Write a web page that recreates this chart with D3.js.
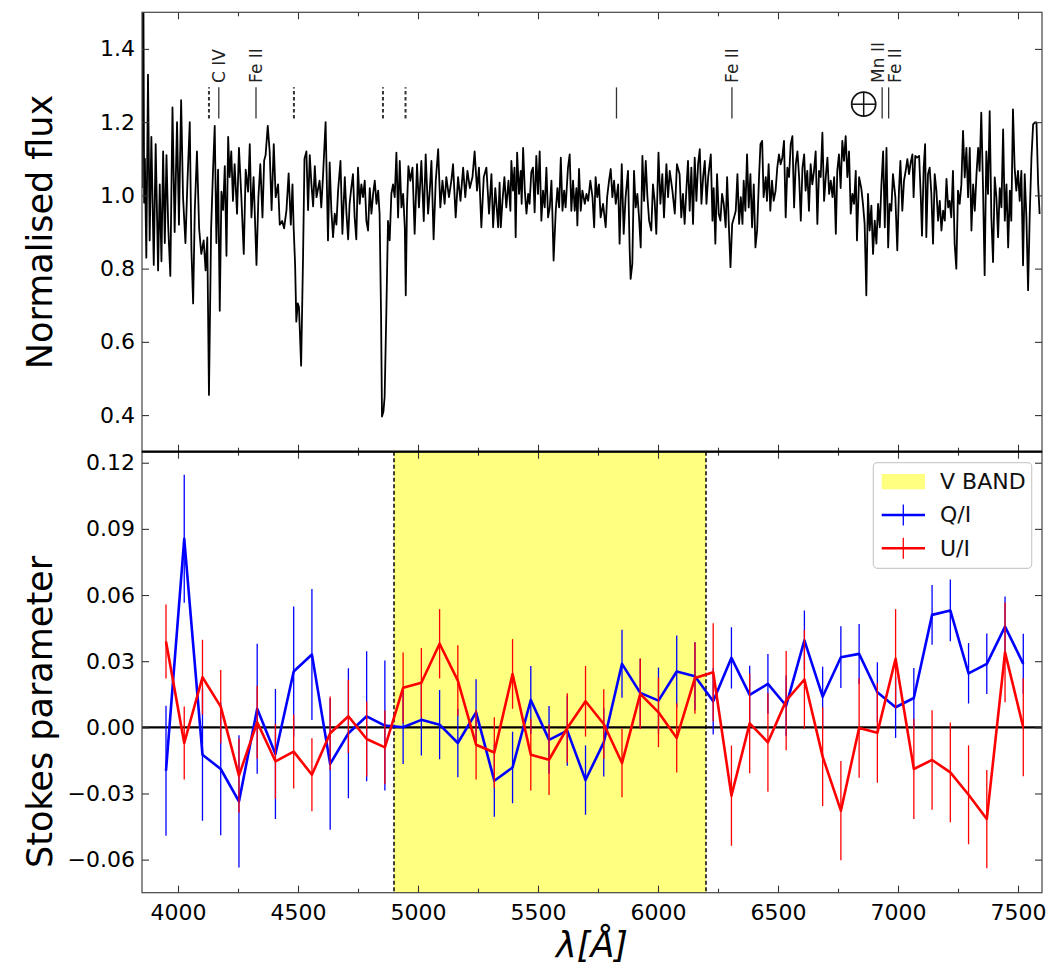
<!DOCTYPE html>
<html><head><meta charset="utf-8">
<script src="https://cdn.jsdelivr.net/npm/d3@7"></script>
<style>body{margin:0;background:#fff;} text{font-family:"DejaVu Sans",sans-serif;}</style>
</head><body><svg id="chart" width="1059" height="971"></svg>
<script>
// ---------------- DATA ----------------
const specWave = [3850,3853,3856,3859,3862,3868,3875,3882,3889,3899,3907,3917,3924,3931,3938,3945,3952,3959,3968,3977,3986,3996,4004,4013,4021,4031,4039,4049,4056,4063,4070,4079,4088,4097,4107,4115,4122,4129,4138,4146,4153,4160,4167,4174,4181,4188,4195,4202,4209,4215,4222,4229,4236,4246,4254,4264,4274,4282,4292,4299,4306,4315,4327,4335,4343,4352,4359,4365,4374,4382,4390,4399,4407,4417,4424,4434,4442,4452,4461,4470,4477,4482,4488,4493,4499,4504,4513,4521,4527,4535,4542,4549,4556,4563,4570,4577,
4590,4597,4604,4615,4625,4632,4639,4646,4653,4660,4667,4677,4685,4695,4702,4709,4715,4722,4729,4736,4743,4750,4757,4764,4771,4778,4785,4792,4799,4806,4813,4820,4827,4834,4840,4846,4850,4856,4861,4868,4875,4882,4889,4896,4903,4910,4917,4924,4931,4938,4945,4949,4954,4960,4968,4977,4986,4996,5004,5014,5024,5032,5042,5049,5056,5065,5074,5084,5093,5102,5111,5118,5129,5139,5146,5157,5167,5177,5188,5197,5206,5216,5227,5236,5246,5254,5264,5274,5285,5296,5306,5313,5322,5334,
5340,5345,5352,5360,5368,5377,5385,5389,5396,5402,5407,5413,5421,5428,5432,5438,5445,5452,5459,5465,5472,5479,5486,5493,5500,5507,5514,5521,5528,5535,5542,5549,5556,5560,5565,5574,5581,5588,5595,5602,5609,5615,5625,5632,5639,5646,5653,5660,5664,5671,5678,5685,5695,5702,5709,5718,5727,5734,5740,5747,5754,5761,5771,5782,5788,5796,5803,5810,5817,5824,5834,5840,5849,5857,5865,5875,5882,5886,5893,5900,5907,5914,5921,5928,5935,5942,5949,5956,5963,5972,5979,5986,5993,6002,6010,6018,6025,6035,6042,6049,6060,6070,6079,
6090,6097,6104,6111,6118,6125,6132,6139,6146,6153,6160,6167,6174,6181,6188,6195,6202,6209,6220,6227,6232,6239,6246,6253,6260,6267,6274,6282,6288,6295,6302,6309,6317,6324,6331,6338,6345,6352,6357,6364,6371,6378,6385,6392,6399,6406,6413,6421,6427,6434,6440,6449,6454,6461,6468,6475,6482,6490,6497,6504,6511,6518,6525,6532,6539,6546,6553,6560,6567,6574,6581,6588,6595,6602,6609,6615,6622,6629,6636,6643,6650,6657,6664,6671,6678,6685,6692,6699,6706,6713,6720,6727,6734,6741,6747,6754,6761,6768,6775,6782,6789,6796,6803,6810,6817,6824,6829,6838,
6847,6854,6861,6868,6875,6882,6889,6896,6903,6910,6917,6924,6931,6938,6945,6952,6959,6965,6972,6979,6989,6997,7004,7010,7018,7025,7032,7039,7046,7053,7060,7065,7072,7079,7088,7095,7100,7107,7113,7118,7125,7132,7139,7146,7153,7160,7167,7174,7181,7188,7195,7202,7209,7215,7222,7229,7236,7243,7250,7257,7264,7271,7278,7285,7292,7299,7306,7313,7320,7327,7334,7340,7347,7354,7361,7368,7375,7382,7389,7396,7403,7410,7417,7424,7431,7438,7445,7452,7459,7466,7472,7479,7486,7493,7500,7507,7514,7521,7528,7535,7542,7549,7556,7563,7570,7577,7584,7590];
const specFlux = [1.02,1.60,1.52,0.98,1.10,0.83,1.33,0.877,1.16,0.81,1.14,0.795,1.03,0.82,1.12,0.87,1.11,0.92,0.78,1.24,0.90,1.20,0.92,1.26,0.995,0.87,1.03,1.20,0.85,0.705,0.96,1.12,0.91,0.84,0.877,0.795,0.885,0.455,0.91,1.07,1.19,0.87,1.07,0.685,1.01,0.96,1.08,0.835,1.16,1.05,1.12,0.985,1.085,0.95,1.13,0.995,0.84,1.07,1.01,1.14,0.94,1.05,0.81,0.995,1.085,0.94,1.095,1.11,1.19,1.12,0.96,1.14,0.995,1.03,0.92,0.93,0.91,0.96,1.06,0.92,1.03,0.91,0.81,0.655,0.705,0.695,0.535,0.83,1.10,1.12,0.96,1.11,1.03,0.97,1.08,0.995,
1.04,0.967,1.05,1.20,0.877,1.09,0.958,0.886,0.95,0.92,1.013,1.094,0.895,1.05,0.95,0.88,0.977,1.02,1.058,0.94,0.88,1.076,0.977,1.03,0.995,1.04,0.93,0.904,1.02,0.95,1.004,1.04,0.977,1.013,0.95,0.678,0.396,0.41,0.45,0.678,0.93,0.877,1.004,1.03,0.995,1.117,0.94,1.094,0.967,1.004,0.913,0.727,0.967,1.08,1.04,1.076,0.895,1.085,0.967,1.094,0.93,1.112,0.95,1.013,1.094,0.88,1.04,1.126,0.967,1.04,0.977,1.05,0.995,1.04,1.085,0.94,1.05,0.985,1.076,0.995,1.067,1.02,1.05,1.12,1.013,1.076,0.913,1.05,1.076,0.95,1.058,0.913,1.02,0.913,
1.035,0.913,0.985,1.05,0.967,1.04,0.958,1.094,1.013,1.076,0.886,1.117,1.004,1.067,0.977,1.13,1.013,0.95,1.004,0.977,1.063,1.076,0.954,1.108,1.004,1.12,0.931,1.013,0.967,1.076,0.94,0.967,1.04,0.95,0.822,0.958,1.02,0.967,1.103,0.958,1.013,0.967,1.076,1.112,0.958,1.04,0.958,1.02,0.918,1.072,0.958,1.013,0.977,1.004,0.985,1.04,0.995,0.913,1.05,0.995,1.03,0.94,0.977,0.913,0.995,1.04,1.072,0.995,1.04,0.977,1.03,0.868,1.085,0.895,0.995,1.067,0.85,0.772,0.813,1.067,0.967,1.004,0.94,0.858,1.108,0.985,1.094,0.995,0.931,0.904,1.03,0.985,0.895,1.117,0.977,1.058,0.94,1.085,0.995,1.067,1.013,0.95,1.085,
1.058,0.94,1.004,0.922,1.013,1.094,0.958,1.076,0.922,1.103,0.985,1.085,1.126,0.977,1.05,1.094,0.977,1.05,1.112,0.931,1.02,0.868,1.058,0.95,0.931,1.004,0.977,0.913,1.05,0.922,0.804,0.922,0.94,0.958,1.058,0.922,0.995,0.922,1.04,0.958,1.112,0.967,1.058,0.913,1.03,0.858,0.904,1.05,1.14,1.149,0.995,1.05,0.985,1.085,0.958,1.04,0.985,1.013,1.076,1.112,1.085,1.103,1.149,0.94,1.076,1.05,1.14,1.162,0.967,1.085,1.12,1.05,0.931,1.076,1.112,1.013,1.067,0.958,1.085,1.03,1.067,1.12,0.922,1.067,1.05,1.171,0.985,1.05,1.103,1.004,1.04,0.995,1.05,0.895,1.067,1.112,1.02,1.149,1.094,1.162,1.05,1.12,0.95,1.004,0.977,1.067,0.877,1.05,
1.02,0.977,0.922,0.727,1.004,0.904,0.972,0.84,0.931,0.868,0.977,0.913,1.03,1.12,0.913,1.13,0.858,0.977,0.958,1.058,0.995,0.85,1.013,1.094,0.958,1.04,1.067,1.099,1.058,1.09,1.112,0.995,1.108,1.103,1.108,0.995,0.89,1.076,1.14,0.886,1.058,1.076,1.004,0.868,1.058,1.013,0.931,0.985,0.904,0.958,0.931,1.045,0.967,0.985,0.94,1.067,0.868,0.80,1.013,0.977,1.03,1.176,1.049,1.13,0.995,1.13,0.904,1.03,0.958,1.058,1.13,1.067,1.226,1.03,0.782,1.12,1.004,1.23,0.94,0.818,1.049,0.995,0.886,1.02,0.967,1.18,0.931,1.03,0.858,1.013,0.931,1.235,1.076,1.013,1.067,0.985,1.067,0.809,1.058,0.94,0.741,0.949,1.103,1.194,1.199,1.199,1.03,0.949];

const dashedLines = [4129, 4483, 4854, 4948];
const solidLines = [4170, 4325, 5827, 6308, 6934, 6961];
const labelText = ["C IV", "Fe II", "Fe II", "Mn II", "Fe II"];
const labelWave = [4170, 4325, 6308, 6917, 6986];
const telluricWave = [6857];

const binWave = [3950,4026,4102,4178,4254,4330,4406,4482,4558,4634,4710,4786,4862,4938,5014,5090,5166,5242,5318,5394,5470,5546,5622,5698,5774,5850,5926,6002,6078,6154,6230,6306,6382,6458,6534,6610,6686,6762,6838,6914,6990,7066,7142,7218,7294,7370,7446,7522];
const qValues = [-0.0197,0.0855,-0.0124,-0.0189,-0.0336,0.0084,-0.0121,0.0253,0.0330,-0.0166,-0.0027,0.0050,0.0008,0.0000,0.0034,0.0012,-0.0071,0.0068,-0.0242,-0.0182,0.0124,-0.0057,-0.0015,-0.0239,-0.0068,0.0288,0.0156,0.0121,0.0253,0.0232,0.0118,0.0315,0.0147,0.0197,0.0098,0.0394,0.0139,0.0318,0.0333,0.0159,0.0091,0.0133,0.0510,0.0530,0.0245,0.0288,0.0457,0.0288];
const qErrors = [0.0295,0.029,0.030,0.030,0.030,0.0295,0.0295,0.0295,0.0297,0.0298,0.0295,0.0295,0.0295,0.0166,0.0162,0.0157,0.0155,0.0150,0.0164,0.0162,0.0154,0.0154,0.0159,0.0157,0.0155,0.0154,0.0155,0.0150,0.0163,0.0154,0.0150,0.0139,0.0132,0.0135,0.0137,0.0136,0.0136,0.0140,0.0136,0.0136,0.0139,0.0136,0.0136,0.0140,0.0137,0.0137,0.0136,0.0136];
const uValues = [0.0389,-0.0071,0.0227,0.0094,-0.0219,0.0023,-0.0154,-0.0110,-0.0215,-0.0027,0.0050,-0.0053,-0.0091,0.0179,0.0202,0.0379,0.0212,-0.0079,-0.0114,0.0242,-0.0124,-0.0147,-0.0003,0.0118,0.0015,-0.0162,0.0152,0.0068,-0.0048,0.0224,0.0250,-0.0310,0.0018,-0.0068,0.0121,0.0217,-0.0133,-0.0378,-0.0003,-0.0025,0.0311,-0.0189,-0.0148,-0.0204,-0.0306,-0.0416,0.0340,0.0000];
const uErrors = [0.0168,0.0166,0.0170,0.0166,0.0168,0.0166,0.0170,0.0168,0.0166,0.0167,0.0166,0.0170,0.0167,0.0160,0.0158,0.0157,0.0160,0.0158,0.0160,0.0158,0.0163,0.0160,0.0157,0.0160,0.0158,0.0155,0.0160,0.0158,0.0157,0.0162,0.0222,0.0227,0.0226,0.0224,0.0225,0.0225,0.0224,0.0225,0.0226,0.0226,0.0225,0.0227,0.0226,0.0226,0.0224,0.0223,0.0226,0.0222];
const vBand = [4900, 6200];

const xMajorTicks = [4000,4500,5000,5500,6000,6500,7000,7500];
const xMinorTicks = [4250,4750,5250,5750,6250,6750,7250];
const fluxTicks = [0.4,0.6,0.8,1.0,1.2,1.4];
const stokesTicks = [-0.06,-0.03,0.00,0.03,0.06,0.09,0.12];
const legendLabels = ["V BAND","Q/I","U/I"];

// ---------------- CHART ----------------
const svg = d3.select("#chart");
svg.append("rect").attr("width",1059).attr("height",971).attr("fill","#fff");
const L=142, R=1042, T1=12.3, MID=451.7, B2=892.7;
const x = d3.scaleLinear().domain([3850,7600]).range([L,R]);
const yTop = d3.scaleLinear().domain([0.3,1.5]).range([MID,T1]);
const yBot = d3.scaleLinear().domain([-0.075,0.125]).range([B2,MID]);

const defs = svg.append("defs");
defs.append("clipPath").attr("id","clipTop").append("rect").attr("x",L).attr("y",T1).attr("width",R-L).attr("height",MID-T1);
defs.append("clipPath").attr("id","clipBot").append("rect").attr("x",L).attr("y",MID).attr("width",R-L).attr("height",B2-MID);

// ---- top panel ----
const gTop = svg.append("g");
const spec = d3.zip(specWave, specFlux);
gTop.append("path").datum(spec).attr("clip-path","url(#clipTop)")
  .attr("d", d3.line().x(d=>x(d[0])).y(d=>yTop(d[1])))
  .attr("fill","none").attr("stroke","#000").attr("stroke-width",1.8).attr("stroke-linejoin","round");

const mkLo = 1.21, mkHi = 1.295, lblBase = 1.307;
gTop.selectAll("line.dash").data(dashedLines).join("line")
  .attr("x1",d=>x(d)).attr("x2",d=>x(d)).attr("y1",yTop(mkLo)).attr("y2",yTop(mkHi))
  .attr("stroke","#333").attr("stroke-width",2).attr("stroke-dasharray","3.5,2.5");
gTop.selectAll("line.solid").data(solidLines).join("line")
  .attr("x1",d=>x(d)).attr("x2",d=>x(d)).attr("y1",yTop(mkLo)).attr("y2",yTop(mkHi))
  .attr("stroke","#333").attr("stroke-width",1.3);
gTop.selectAll("text.lbl").data(d3.zip(labelText,labelWave)).join("text")
  .attr("transform",d=>`translate(${x(d[1])},${yTop(lblBase)}) rotate(-90)`)
  .attr("dy","0.36em").attr("text-anchor","start").attr("font-size",17).attr("fill","#222")
  .text(d=>d[0]);
telluricWave.forEach(w=>{
  const cx = x(w), cy = yTop(1.249), r = 12;
  gTop.append("circle").attr("cx",cx).attr("cy",cy).attr("r",r).attr("fill","none").attr("stroke","#111").attr("stroke-width",1.7);
  gTop.append("line").attr("x1",cx-r).attr("x2",cx+r).attr("y1",cy).attr("y2",cy).attr("stroke","#111").attr("stroke-width",1.5);
  gTop.append("line").attr("x1",cx).attr("x2",cx).attr("y1",cy-r).attr("y2",cy+r).attr("stroke","#111").attr("stroke-width",1.5);
});

// ---- bottom panel ----
const gBot = svg.append("g");
gBot.append("rect").attr("x",x(vBand[0])).attr("y",MID).attr("width",x(vBand[1])-x(vBand[0])).attr("height",B2-MID).attr("fill","#ffff80");
vBand.forEach(v=>{
  gBot.append("line").attr("x1",x(v)).attr("x2",x(v)).attr("y1",MID).attr("y2",B2)
    .attr("stroke","#111").attr("stroke-width",1.6).attr("stroke-dasharray","4,2.5");
});
gBot.append("line").attr("x1",L).attr("x2",R).attr("y1",yBot(0)).attr("y2",yBot(0)).attr("stroke","#000").attr("stroke-width",2.2);

function series(vals, errs, color){
  const g = gBot.append("g").attr("clip-path","url(#clipBot)");
  const pts = d3.zip(binWave, vals, errs);
  g.append("path").datum(pts).attr("d", d3.line().x(d=>x(d[0])).y(d=>yBot(d[1])))
    .attr("fill","none").attr("stroke",color).attr("stroke-width",2.6).attr("stroke-linejoin","round");
  g.selectAll("line").data(pts).join("line")
    .attr("x1",d=>x(d[0])).attr("x2",d=>x(d[0]))
    .attr("y1",d=>yBot(d[1]-d[2])).attr("y2",d=>yBot(d[1]+d[2]))
    .attr("stroke",color).attr("stroke-width",1.3);
}
series(qValues, qErrors, "#0000ff");
series(uValues, uErrors, "#ff0000");

// ---- axes ----
function styleAxis(g){ g.select(".domain").remove(); g.selectAll(".tick line").attr("stroke","#333").attr("stroke-width",1.1);
  g.selectAll("text").attr("font-family","DejaVu Sans, sans-serif").attr("font-size",22).attr("fill","#000"); }
const noLbl = ()=>"";
svg.append("g").attr("transform",`translate(${L},0)`).call(d3.axisLeft(yTop).tickValues(fluxTicks).tickSize(-7).tickPadding(7).tickFormat(d3.format(".1f"))).call(styleAxis);
svg.append("g").attr("transform",`translate(${R},0)`).call(d3.axisRight(yTop).tickValues(fluxTicks).tickSize(-7).tickFormat(noLbl)).call(styleAxis);
[[d3.axisTop,T1],[d3.axisBottom,MID]].forEach(([ax,yy])=>{
  svg.append("g").attr("transform",`translate(0,${yy})`).call(ax(x).tickValues(xMajorTicks).tickSize(-7).tickFormat(noLbl)).call(styleAxis);
  svg.append("g").attr("transform",`translate(0,${yy})`).call(ax(x).tickValues(xMinorTicks).tickSize(-4).tickFormat(noLbl)).call(styleAxis);
});
const stokesFmt = d=> (d<0?"\u2212":"") + d3.format(".2f")(Math.abs(d));
svg.append("g").attr("transform",`translate(${L},0)`).call(d3.axisLeft(yBot).tickValues(stokesTicks).tickSize(-7).tickPadding(7).tickFormat(stokesFmt)).call(styleAxis);
svg.append("g").attr("transform",`translate(${R},0)`).call(d3.axisRight(yBot).tickValues(stokesTicks).tickSize(-7).tickFormat(noLbl)).call(styleAxis);
svg.append("g").attr("transform",`translate(0,${MID})`).call(d3.axisTop(x).tickValues(xMajorTicks).tickSize(-7).tickFormat(noLbl)).call(styleAxis);
svg.append("g").attr("transform",`translate(0,${MID})`).call(d3.axisTop(x).tickValues(xMinorTicks).tickSize(-4).tickFormat(noLbl)).call(styleAxis);
svg.append("g").attr("transform",`translate(0,${B2})`).call(d3.axisBottom(x).tickValues(xMajorTicks).tickSize(-7).tickPadding(12).tickFormat(d3.format("d"))).call(styleAxis);
svg.append("g").attr("transform",`translate(0,${B2})`).call(d3.axisBottom(x).tickValues(xMinorTicks).tickSize(-4).tickFormat(noLbl)).call(styleAxis);

// spines
svg.append("rect").attr("x",L).attr("y",T1).attr("width",R-L).attr("height",MID-T1).attr("fill","none").attr("stroke","#444").attr("stroke-width",1.2);
svg.append("rect").attr("x",L).attr("y",MID).attr("width",R-L).attr("height",B2-MID).attr("fill","none").attr("stroke","#444").attr("stroke-width",1.2);
svg.append("line").attr("x1",L).attr("x2",R).attr("y1",MID).attr("y2",MID).attr("stroke","#000").attr("stroke-width",2.2);

// axis labels
svg.append("text").attr("transform","translate(52,232) rotate(-90)").attr("text-anchor","middle").attr("font-size",35).text("Normalised flux");
svg.append("text").attr("transform","translate(52,712) rotate(-90)").attr("text-anchor","middle").attr("font-size",35).text("Stokes parameter");
svg.append("text").attr("x",592).attr("y",957).attr("text-anchor","middle").attr("font-size",35).attr("font-style","italic").text("\u03bb[\u00c5]");

// legend
const lg = svg.append("g");
lg.append("rect").attr("x",873.3).attr("y",462.7).attr("width",158.4).attr("height",105.6).attr("rx",4)
  .attr("fill","#fff").attr("fill-opacity",0.8).attr("stroke","#ccc").attr("stroke-width",1.2);
lg.append("rect").attr("x",881.7).attr("y",474).attr("width",43.3).attr("height",15.3).attr("fill","#ffff80");
[["#0000ff",515],["#ff0000",548.3]].forEach(([c,yy])=>{
  lg.append("line").attr("x1",881.7).attr("x2",925).attr("y1",yy).attr("y2",yy).attr("stroke",c).attr("stroke-width",2.6);
  lg.append("line").attr("x1",903.3).attr("x2",903.3).attr("y1",yy-10.5).attr("y2",yy+10.5).attr("stroke",c).attr("stroke-width",1.3);
});
lg.selectAll("text").data(legendLabels).join("text")
  .attr("x",940).attr("y",(d,i)=>[489.3,522,555.6][i]).attr("font-size",22).attr("fill","#111").text(d=>d);
</script></body></html>
